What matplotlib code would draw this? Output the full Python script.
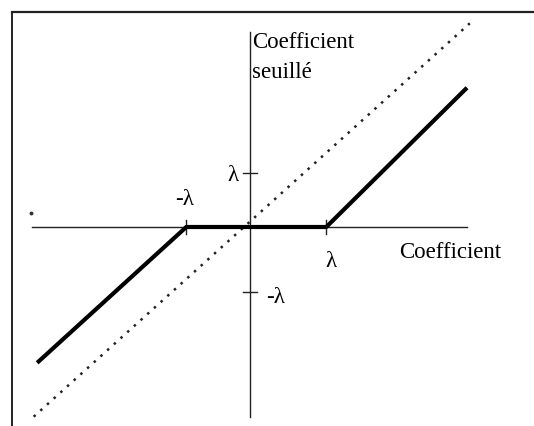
import matplotlib
matplotlib.use('Agg')
import matplotlib.pyplot as plt

plt.rcParams['font.family'] = ['Liberation Serif', 'DejaVu Serif']

# soft thresholding: zero inside [-lam, lam], shifted identity outside
thresh_x = [-3.04, -0.91, 1.09, 3.10]
thresh_y = [-1.94, 0.0, 0.0, 1.99]
# identity line y = x (dotted)
ident_x = [-3.09, 3.14]
ident_y = [-2.71, 2.91]
# axis extents
xaxis_x = [-3.11, 3.10]
yaxis_y = [-2.71, 2.79]
# tick positions (-lam, lam) on each axis
xticks = [-0.91, 1.09]
yticks = [0.77, -0.93]
tick_len = 0.1

fig = plt.figure(figsize=(5.34, 4.26), dpi=100)
ax = fig.add_axes([0, 0, 1, 1])
ax.set_xlim(-3.571, 4.057)
ax.set_ylim(-2.843, 3.243)
ax.axis('off')

# frame round the drawing (left and top edges inside the picture)
ax.plot([0.022, 0.022], [0.0, 0.972], color='#222222', lw=1.4,
        transform=ax.transAxes, clip_on=False)
ax.plot([0.022, 1.0], [0.972, 0.972], color='#222222', lw=1.6,
        transform=ax.transAxes, clip_on=False)

ax.plot(xaxis_x, [0, 0], color='#222222', lw=1.0)
ax.plot([0, 0], yaxis_y, color='#222222', lw=1.0)
for t in xticks:
    ax.plot([t, t], [-tick_len, tick_len], color='#222222', lw=1.0)
for t in yticks:
    ax.plot([-tick_len, tick_len], [t, t], color='#222222', lw=1.0)

ax.plot(ident_x, ident_y, color='#222222', lw=1.8, linestyle=(0, (1, 2.6)))
ax.plot(thresh_x, thresh_y, color='black', lw=3.0, solid_capstyle='butt')
ax.plot([-3.13], [0.2], marker='o', ms=1.8, color='#333333')

fs = 16.5
ax.text(0.03, 2.79, 'Coefficient', fontsize=fs, ha='left', va='top')
ax.text(0.03, 2.36, 'seuillé', fontsize=fs, ha='left', va='top')
ax.text(2.13, -0.21, 'Coefficient', fontsize=fs, ha='left', va='top')
ax.text(1.16, -0.34, 'λ', fontsize=fs, ha='center', va='top')
ax.text(-0.94, 0.55, '-λ', fontsize=fs, ha='center', va='top')
ax.text(-0.17, 0.74, 'λ', fontsize=fs, ha='right', va='center')
ax.text(0.23, -1.01, '-λ', fontsize=fs, ha='left', va='center')

fig.savefig('out.png', dpi=100, facecolor='white')
